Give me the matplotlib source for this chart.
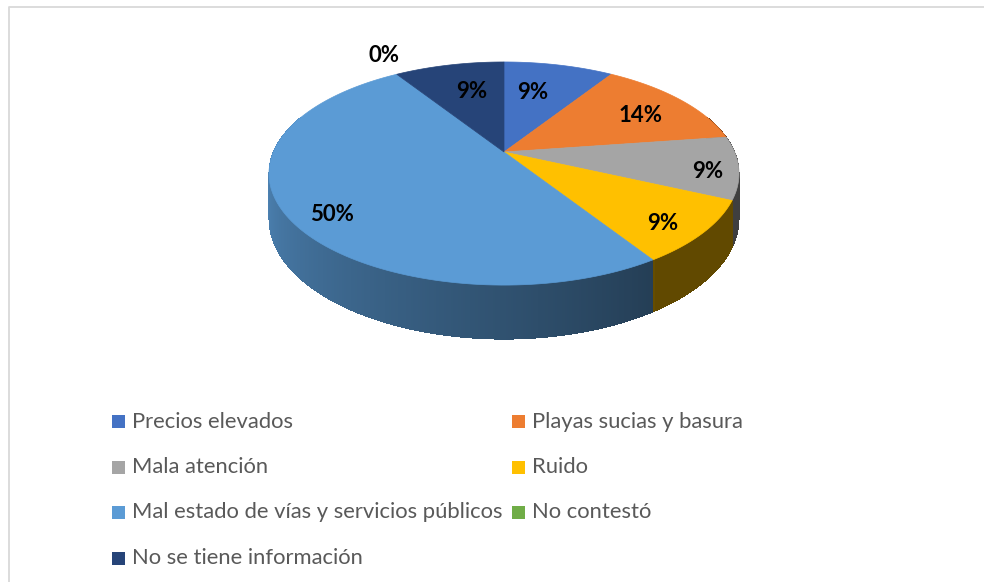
import numpy as np
import matplotlib
matplotlib.use("Agg")
import matplotlib.pyplot as plt
from matplotlib.patches import Polygon, Rectangle

# ---- data ----
categories = ["Precios elevados", "Playas sucias y basura", "Mala atención", "Ruido",
              "Mal estado de vías y servicios públicos", "No contestó",
              "No se tiene información"]
counts = [2, 3, 2, 2, 11, 0, 2]
colors = ["#4472C4", "#ED7D31", "#A5A5A5", "#FFC000", "#5B9BD5", "#70AD47", "#264478"]

# label placement (radius fraction, angle nudge in degrees)
label_r = [0.64, 0.73, 0.87, 0.85, 0.85, 1.26, 0.65]
label_shift = [-3.7, 3.1, 3.7, 3.3, -5.0, 2.8, 2.4]

plt.rcParams["font.family"] = ["Lato", "DejaVu Sans"]

fig = plt.figure(figsize=(9.84, 5.82), dpi=100)
ax = fig.add_axes([0, 0, 1, 1])
ax.set_xlim(0, 984)
ax.set_ylim(582, 0)
ax.axis("off")

# chart frame (cut by the page edge)
ax.plot([8.5, 8.5, 1000], [600, 6.5, 6.5], color="#d9d9d9", lw=1.3, zorder=1)

# ---- 3D pie geometry (simple perspective) ----
CX, CY = 504.0, 152.0      # apex
A, B, K = 230.6, 107.4, 0.193
H = 43.6                   # thickness


def proj(p, q, z=0.0):
    w = 1 + K * q
    return CX + A * p / w, CY - B * q / w + z * H / w


def rgb(c):
    c = c.lstrip("#")
    return np.array([int(c[i:i + 2], 16) for i in (0, 2, 4)]) / 255.0


total = float(sum(counts))
fracs = np.array(counts) / total
edges = np.concatenate([[0], np.cumsum(fracs)]) * 360.0


def shade(th):
    if th >= 147:
        return 0.40 + 0.43 * (th - 147) / (259 - 147)
    return 0.38


# sides: thin overlapping quads, far ones first
quads = []
for i in range(len(counts)):
    a0, a1 = edges[i], edges[i + 1]
    if a1 - a0 <= 0:
        continue
    n = max(int((a1 - a0) / 0.5), 1)
    ts = np.linspace(a0, a1, n + 1)
    for t0, t1 in zip(ts[:-1], ts[1:]):
        tm = 0.5 * (t0 + t1)
        if not (70 < tm < 290):
            continue
        r0 = np.radians(t0)
        r1 = np.radians(min(t1 + 0.4, a1))
        pts = [proj(np.sin(r0), np.cos(r0)), proj(np.sin(r1), np.cos(r1)),
               proj(np.sin(r1), np.cos(r1), 1), proj(np.sin(r0), np.cos(r0), 1)]
        col = np.clip(rgb(colors[i]) * shade(tm), 0, 1)
        quads.append((np.cos(np.radians(tm)), pts, col))
quads.sort(key=lambda s: -s[0])
for _, pts, col in quads:
    ax.add_patch(Polygon(pts, closed=True, fc=col, ec="none", lw=0,
                         antialiased=False, zorder=2))

# top face
for i in range(len(counts)):
    a0, a1 = edges[i], edges[i + 1]
    if a1 - a0 <= 0:
        continue
    ts = np.radians(np.linspace(a0, a1, 120))
    pts = [proj(0, 0)] + [proj(np.sin(t), np.cos(t)) for t in ts]
    ax.add_patch(Polygon(pts, closed=True, fc=colors[i], ec=colors[i], lw=0.5, zorder=3))

# data labels
for i in range(len(counts)):
    mid = 0.5 * (edges[i] + edges[i + 1]) + label_shift[i]
    t = np.radians(mid)
    x, y = proj(label_r[i] * np.sin(t), label_r[i] * np.cos(t))
    ax.text(x, y, f"{round(100 * fracs[i])}%", ha="center", va="center",
            fontsize=16, fontweight="bold", color="black", zorder=5)

# legend (row-major, two columns)
col_x = [112, 512]
row_y0, row_dy = 421.5, 45.5
for i, name in enumerate(categories):
    cx = col_x[i % 2]
    cy = row_y0 + (i // 2) * row_dy
    ax.add_patch(Rectangle((cx, cy - 6.5), 13, 13, fc=colors[i], ec="none", zorder=4))
    ax.text(cx + 20, cy, name, ha="left", va="center", fontsize=15.8,
            color="#595959", zorder=4)

fig.savefig("out.png", dpi=100, facecolor="white")
